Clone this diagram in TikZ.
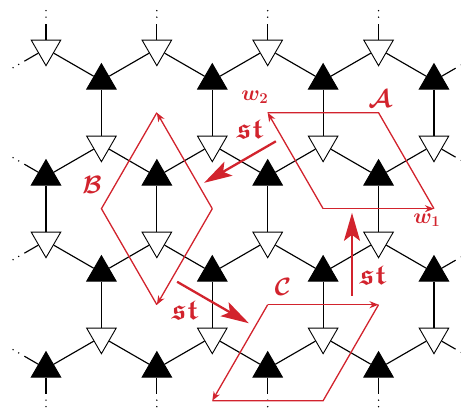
\documentclass[tikz,border=0pt]{standalone}
\usepackage{amsmath,amssymb,bm,graphicx}
\usetikzlibrary{shapes.geometric,arrows.meta,calc}
\definecolor{rd}{RGB}{210,35,45}
\newcommand\mystub[3]{%
  \draw[edge] (#1) -- ($(#1)+({25*(#2)},{25*(#3)})$);
  \fill ($(#1)+({31.5*(#2)},{31.5*(#3)})$) circle (0.8pt);
  \fill ($(#1)+({38*(#2)},{38*(#3)})$) circle (0.8pt);}
\newcommand\stlab{\scalebox{1.37}{$\bm{\mathfrak{st}}$}}
\newcommand\callab[1]{\scalebox{1.45}{$\bm{\mathcal{#1}}$}}
\newcommand\wlab[1]{\scalebox{1.25}{$\bm{w_{#1}}$}}
\begin{document}
\begin{tikzpicture}[x=1pt,y=-1pt,
  edge/.style={line width=1.15pt, draw=black},
  wt/.style={regular polygon, regular polygon sides=3, shape border rotate=180, draw=black, fill=white, line width=0.9pt, inner sep=0pt, minimum size=34pt},
  bt/.style={regular polygon, regular polygon sides=3, draw=black, fill=black, line width=0.9pt, inner sep=0pt, minimum size=34pt},
  rl/.style={draw=rd, line width=1.3pt, line join=miter},
  ra/.style={rl, -{Stealth[length=9pt,width=7pt,inset=2.8pt]}},
  sta/.style={draw=rd, line width=2.3pt, -{Stealth[length=28pt,width=16pt,inset=6pt]}},
  lab/.style={text=rd, inner sep=0pt}]
\useasboundingbox (0,0) rectangle (461,411);
\def\s{110.85}
\foreach \k in {0,...,3}{
  \pgfmathsetmacro\xe{46+\k*\s}
  \pgfmathsetmacro\xo{101.43+\k*\s}
  \node[wt] (a\k) at (\xe,48.7) {};
  \node[bt] (b\k) at (\xo,80.7) {};
  \node[wt] (c\k) at (\xo,144.7) {};
  \node[bt] (d\k) at (\xe,176.7) {};
  \node[wt] (e\k) at (\xe,240.7) {};
  \node[bt] (f\k) at (\xo,272.7) {};
  \node[wt] (g\k) at (\xo,336.7) {};
  \node[bt] (h\k) at (\xe,368.7) {};
}
\foreach \k in {0,...,3}{
  \draw[edge] (a\k) -- (b\k);
  \draw[edge] (b\k) -- (c\k);
  \draw[edge] (c\k) -- (d\k);
  \draw[edge] (d\k) -- (e\k);
  \draw[edge] (e\k) -- (f\k);
  \draw[edge] (f\k) -- (g\k);
  \draw[edge] (g\k) -- (h\k);
}
\foreach \k [evaluate=\k as \j using int(\k+1)] in {0,1,2}{
  \draw[edge] (b\k) -- (a\j);
  \draw[edge] (c\k) -- (d\j);
  \draw[edge] (f\k) -- (e\j);
  \draw[edge] (g\k) -- (h\j);
}
\foreach \k in {0,...,3}{\mystub{a\k}{0}{-1}\mystub{h\k}{0}{1}}
\mystub{a0}{-0.866}{0.5}
\mystub{d0}{-0.866}{-0.5}
\mystub{e0}{-0.866}{0.5}
\mystub{h0}{-0.866}{-0.5}
\mystub{b3}{0.866}{-0.5}
\mystub{c3}{0.866}{0.5}
\mystub{f3}{0.866}{-0.5}
\mystub{g3}{0.866}{0.5}
% red cells
\coordinate (A0) at (323.13,208.7);
\coordinate (A1) at (433.98,208.7);
\coordinate (A2) at (267.7,112.7);
\coordinate (A3) at (378.55,112.7);
\draw[rl] (A2) -- (A3) -- (A1);
\draw[ra] (A0) -- (A1);
\draw[ra] (A0) -- (A2);
\coordinate (BR) at (212.28,208.7);
\coordinate (BT) at (156.85,112.7);
\coordinate (BL) at (101.43,208.7);
\coordinate (BB) at (156.85,304.7);
\draw[rl] (BT) -- (BL) -- (BB);
\draw[ra] (BR) -- (BT);
\draw[ra] (BR) -- (BB);
\coordinate (CO) at (267.7,304.7);
\coordinate (CR) at (378.55,304.7);
\coordinate (CL) at (212.28,400.7);
\coordinate (CX) at (323.13,400.7);
\draw[rl] (CR) -- (CX) -- (CL);
\draw[ra] (CO) -- (CR);
\draw[ra] (CO) -- (CL);
% st arrows
\coordinate (s1a) at (275.9,141.3);
\coordinate (s1b) at (204.1,182.8);
\coordinate (s2a) at (177.1,281.75);
\coordinate (s2b) at (248.9,323.25);
\coordinate (s3a) at (352,295.8);
\coordinate (s3b) at (352,212.8);
\draw[sta] (s1a) -- (s1b);
\draw[sta] (s2a) -- (s2b);
\draw[sta] (s3a) -- (s3b);
\node[lab, font=\fontsize{20.74}{24}\selectfont] (t1) at (250,130) {\stlab};
\node[lab, font=\fontsize{20.74}{24}\selectfont] (t2) at (185,311) {\stlab};
\node[lab, font=\fontsize{20.74}{24}\selectfont] (t3) at (373,276) {\stlab};
\node[lab, font=\fontsize{17.28}{20}\selectfont] (LA) at (380,99) {\callab{A}};
\node[lab, font=\fontsize{17.28}{20}\selectfont] (LB) at (92,185) {\callab{B}};
\node[lab, font=\fontsize{17.28}{20}\selectfont] (LC) at (283,287) {\callab{C}};
\node[lab, font=\fontsize{17.28}{20}\selectfont] (Lw2) at (255,97) {\wlab{2}};
\node[lab, font=\fontsize{17.28}{20}\selectfont] (Lw1) at (427,220) {\wlab{1}};
\end{tikzpicture}
\end{document}
